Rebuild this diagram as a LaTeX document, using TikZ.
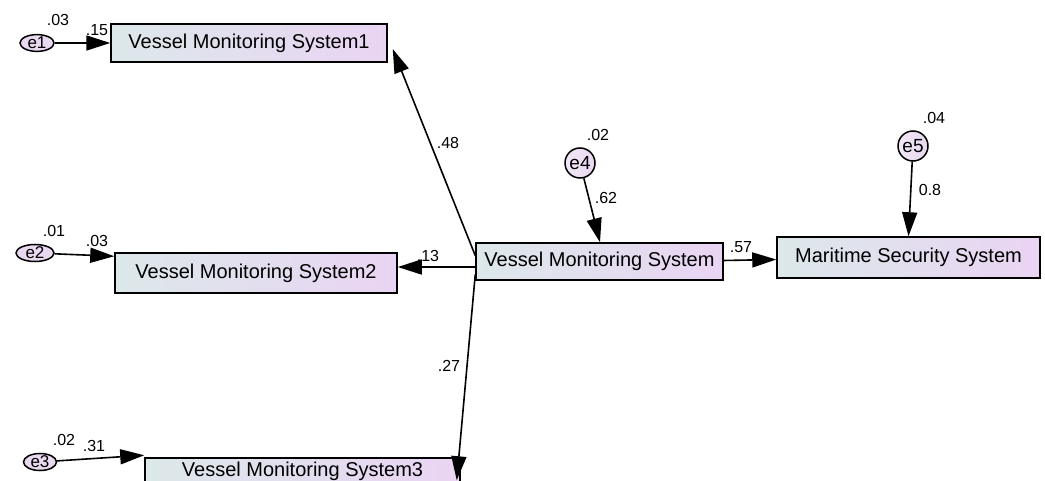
\documentclass[tikz,border=0pt]{standalone}
\usepackage{fontspec}
\setmainfont{Liberation Sans}
\usetikzlibrary{arrows.meta,calc,shapes.geometric}
\definecolor{lc}{RGB}{220,232,234}
\definecolor{rc}{RGB}{234,212,243}
\definecolor{ec}{RGB}{232,216,240}
\tikzset{
  obs/.style={draw=black, line width=1.5pt, left color=lc, right color=rc, inner sep=0pt, font=\fontsize{20}{22}\selectfont},
  err/.style={draw=black, line width=1.5pt, fill=ec, ellipse, inner sep=0pt, minimum width=34pt, minimum height=13pt, font=\fontsize{17}{17}\selectfont},
  errc/.style={draw=black, line width=1.5pt, left color=ec!60!white, right color=ec, circle, inner sep=0pt, minimum size=30pt, font=\fontsize{19}{19}\selectfont},
  path/.style={draw=black, line width=1.6pt, -{Triangle[length=24pt,width=15pt]}},
  lab/.style={font=\fontsize{16}{16}\selectfont, inner sep=0pt}
}
\begin{document}
\begin{tikzpicture}[x=1pt,y=-1pt]
\useasboundingbox (0,0) rectangle (1045,481);
\clip (0,0) rectangle (1045,481);
% observed boxes
\node[obs, minimum width=276pt, minimum height=38pt] (v1) at (249,43) {Vessel Monitoring System1};
\node[obs, minimum width=282pt, minimum height=40pt] (v2) at (256,273) {Vessel Monitoring System2};
\node[obs, minimum width=315pt, minimum height=26pt] (v3) at (302.5,471) {Vessel Monitoring System3};
\node[obs, minimum width=247pt, minimum height=37pt] (vms) at (599.5,261.5) {Vessel Monitoring System};
\node[obs, minimum width=263pt, minimum height=41pt] (mss) at (908.5,257.5) {Maritime Security System};
% errors
\node[err] (e1) at (37,43) {e1};
\node[err, minimum height=11pt, minimum width=38pt] (e2) at (35,253) {e2};
\node[err, minimum width=33pt] (e3) at (40,462) {e3};
\node[errc] (e4) at (580,163) {e4};
\node[errc] (e5) at (913,146) {e5};
% paths
\draw[path] (e1) -- (v1.west);
\draw[path] (e2) -- ($(v2.north west)+(0,4)$);
\draw[path] (e3) -- ($(v3.north west)+(0,-2)$);
\draw[path] (e4) -- ($(vms.north)+(0.5,0)$);
\draw[path] (e5) -- (mss.north);
\draw[path] ($(vms.east)+(0,-1)$) -- ($(mss.west)+(0,2)$);
\draw[path] ($(vms.west)+(0,-6)$) -- ($(v1.east)+(5,6)$);
\draw[path] ($(vms.west)+(0,5.5)$) -- ($(v2.east)+(0,-6)$);
\draw[path] ($(vms.west)+(0,13)$) -- ($(v3.north east)+(-4,23)$);
% labels
\node[lab] (l1) at (58,20) {.03};
\node[lab] (l2) at (97,30) {.15};
\node[lab] (l3) at (54,231) {.01};
\node[lab] (l4) at (97,241) {.03};
\node[lab] (l5) at (64,440) {.02};
\node[lab] (l6) at (94,446) {.31};
\node[lab] (l7) at (598,135) {.02};
\node[lab] (l8) at (606,198) {.62};
\node[lab] (l9) at (934,118) {.04};
\node[lab] (l10) at (930,190) {0.8};
\node[lab] (l11) at (741,247) {.57};
\node[lab] (l12) at (448,143) {.48};
\node[lab] (l13) at (428,256) {.13};
\node[lab] (l14) at (449,366) {.27};
\end{tikzpicture}
\end{document}
